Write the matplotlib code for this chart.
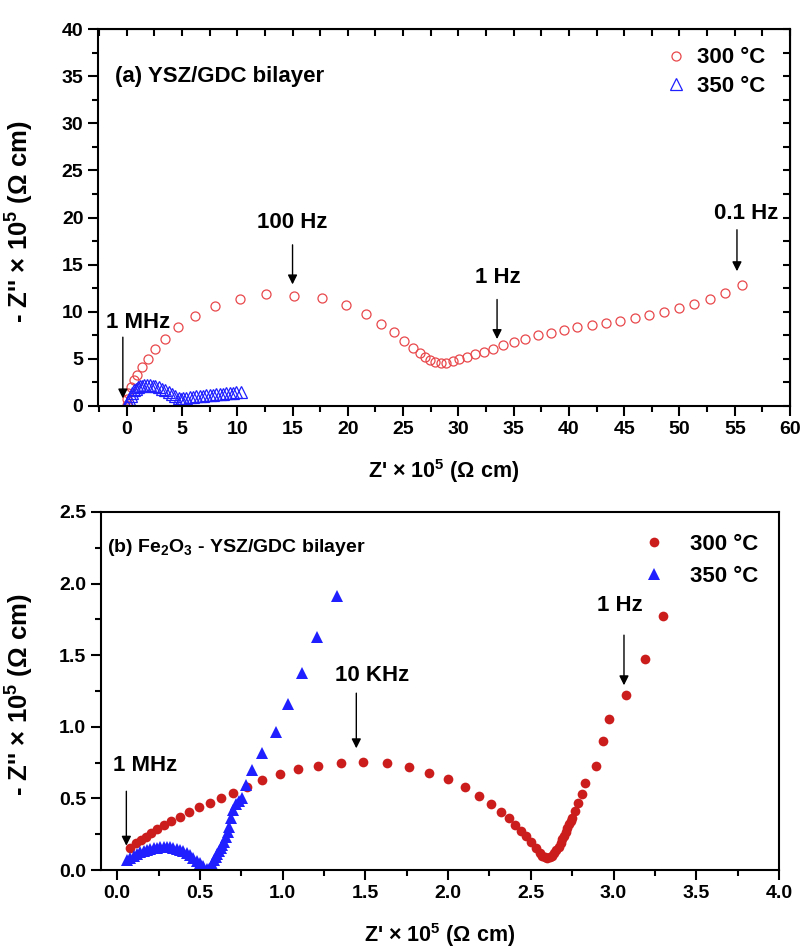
import matplotlib
matplotlib.use("Agg")
import matplotlib.pyplot as plt
from matplotlib.ticker import MultipleLocator

plt.rcParams['font.family'] = ['Liberation Sans', 'DejaVu Sans']
plt.rcParams['mathtext.fontset'] = 'custom'
plt.rcParams['mathtext.rm'] = 'Liberation Sans'
plt.rcParams['mathtext.bf'] = 'Liberation Sans:bold'
plt.rcParams['mathtext.it'] = 'Liberation Sans:italic'

# (a) YSZ/GDC bilayer, Z' and -Z'' in 10^5 ohm cm
a300_x = [0.0, 0.05, 0.15, 0.35, 0.65, 0.95, 1.4, 1.95, 2.6, 3.5, 4.65, 6.15, 8.0, 10.25,
          12.6, 15.1, 17.7, 19.8, 21.6, 23.0, 24.2, 25.1, 25.9, 26.5, 27.0, 27.45, 27.9,
          28.4, 28.9, 29.5, 30.1, 30.8, 31.5, 32.3, 33.1, 34.0, 35.0, 36.0, 37.2, 38.4,
          39.55, 40.75, 42.05, 43.35, 44.6, 46.0, 47.25, 48.6, 49.95, 51.3, 52.75, 54.15, 55.7]
a300_y = [0.1, 0.7, 1.4, 2.05, 2.75, 3.3, 4.1, 5.0, 6.0, 7.15, 8.4, 9.6, 10.6, 11.4,
          11.85, 11.65, 11.45, 10.7, 9.75, 8.75, 7.8, 6.9, 6.2, 5.6, 5.15, 4.85, 4.67,
          4.6, 4.6, 4.74, 4.95, 5.2, 5.48, 5.76, 6.08, 6.5, 6.82, 7.1, 7.5, 7.78,
          8.06, 8.35, 8.6, 8.84, 9.05, 9.3, 9.65, 9.95, 10.37, 10.8, 11.35, 12.0, 12.87]
a350_x = [0.0, 0.1, 0.2, 0.35, 0.5, 0.65, 0.8, 1.0, 1.2, 1.4, 1.6, 1.85, 2.1, 2.35, 2.6,
          2.9, 3.2, 3.5, 3.8, 4.1, 4.4, 4.7, 4.9, 5.1, 5.4, 5.7, 6.0, 6.3, 6.6, 6.9, 7.2,
          7.5, 7.8, 8.1, 8.4, 8.7, 9.0, 9.3, 9.6, 9.9, 10.3]
a350_y = [0.05, 0.4, 0.75, 1.1, 1.4, 1.65, 1.85, 2.0, 2.1, 2.15, 2.2, 2.2, 2.2, 2.15, 2.1,
          2.0, 1.85, 1.7, 1.5, 1.3, 1.1, 0.9, 0.75, 0.8, 0.9, 0.95, 1.0, 1.05, 1.1, 1.1, 1.15,
          1.2, 1.2, 1.25, 1.3, 1.3, 1.35, 1.4, 1.4, 1.45, 1.5]

# (b) Fe2O3 - YSZ/GDC bilayer
b300_x = [0.08, 0.111, 0.141, 0.171, 0.205, 0.242, 0.282, 0.326, 0.379, 0.433, 0.494, 0.558,
          0.625, 0.699, 0.782, 0.877, 0.981, 1.092, 1.215, 1.350, 1.487, 1.628, 1.763, 1.886,
          2.001, 2.100, 2.186, 2.261, 2.322, 2.367, 2.404, 2.438, 2.468, 2.498, 2.529, 2.555,
          2.57, 2.585, 2.60, 2.615, 2.628, 2.64, 2.655, 2.67, 2.68, 2.69, 2.70, 2.71, 2.72,
          2.73, 2.74, 2.751, 2.765, 2.785, 2.81, 2.83, 2.892, 2.936, 2.971, 3.075, 3.188, 3.301]
b300_y = [0.156, 0.186, 0.209, 0.232, 0.256, 0.284, 0.314, 0.342, 0.372, 0.403, 0.438, 0.465,
          0.502, 0.539, 0.581, 0.628, 0.668, 0.703, 0.728, 0.749, 0.754, 0.744, 0.716, 0.679,
          0.633, 0.577, 0.517, 0.461, 0.407, 0.361, 0.314, 0.272, 0.237, 0.198, 0.156, 0.116,
          0.10, 0.088, 0.082, 0.09, 0.10, 0.116, 0.14, 0.163, 0.19, 0.214, 0.24, 0.267, 0.295,
          0.321, 0.345, 0.365, 0.41, 0.47, 0.53, 0.61, 0.728, 0.900, 1.053, 1.221, 1.472, 1.775]
b350_x = [0.06, 0.08, 0.10, 0.12, 0.14, 0.16, 0.18, 0.20, 0.22, 0.24, 0.26, 0.28, 0.30, 0.32,
          0.34, 0.36, 0.38, 0.40, 0.42, 0.44, 0.46, 0.48, 0.50, 0.52, 0.54, 0.555, 0.565, 0.575,
          0.584, 0.595, 0.605, 0.615, 0.625, 0.635, 0.645, 0.657, 0.667, 0.677, 0.689, 0.701,
          0.715, 0.735, 0.753, 0.777, 0.812, 0.872, 0.957, 1.034, 1.118, 1.209, 1.326]
b350_y = [0.07, 0.085, 0.10, 0.112, 0.123, 0.133, 0.141, 0.148, 0.153, 0.157, 0.159, 0.16, 0.16,
          0.158, 0.154, 0.148, 0.14, 0.13, 0.117, 0.102, 0.085, 0.066, 0.046, 0.027, 0.01, 0.005,
          0.02, 0.04, 0.07, 0.09, 0.11, 0.13, 0.151, 0.172, 0.193, 0.233, 0.265, 0.302, 0.36,
          0.419, 0.46, 0.48, 0.50, 0.593, 0.698, 0.814, 0.965, 1.156, 1.373, 1.624, 1.912]

series_labels = ["300 °C", "350 °C"]

xlabel = "Z' $\\mathregular{\\times}$ 10$^{\\mathbf{5}}$ ($\\mathregular{\\Omega}$ cm)"
ylabel = "- Z'' $\\mathregular{\\times}$ 10$^{\\mathbf{5}}$ ($\\mathregular{\\Omega}$ cm)"

fig = plt.figure(figsize=(8.05, 9.49), dpi=100)
ax1 = fig.add_axes([0.1217, 0.5722, 0.8597, 0.3972])
ax2 = fig.add_axes([0.1251, 0.0832, 0.8426, 0.3773])


def style(ax, xmaj, ymaj, ylab_x):
    for s in ax.spines.values():
        s.set_linewidth(1.5)
    ax.xaxis.set_major_locator(MultipleLocator(xmaj))
    ax.xaxis.set_minor_locator(MultipleLocator(xmaj / 2))
    ax.yaxis.set_major_locator(MultipleLocator(ymaj))
    ax.yaxis.set_minor_locator(MultipleLocator(ymaj / 2))
    ax.tick_params(which='major', direction='out', length=7, width=1.5, labelsize=14)
    ax.tick_params(which='minor', direction='out', length=4, width=1.5)
    for lab in ax.get_xticklabels() + ax.get_yticklabels():
        lab.set_fontweight('bold')
    ax.set_xlabel(xlabel, fontsize=15.5, fontweight='bold', labelpad=14)
    ax.set_ylabel(ylabel, fontsize=18.5, fontweight='bold')
    ax.yaxis.set_label_coords(ylab_x, 0.49)


def arrow(ax, x, y0, y1):
    ax.annotate('', xy=(x, y1), xytext=(x, y0),
                arrowprops=dict(arrowstyle='-|>', color='black', lw=1.0,
                                mutation_scale=14, shrinkA=0, shrinkB=0))


def note(ax, x, y, s):
    ax.text(x, y, s, fontsize=16, fontweight='bold', ha='center', va='center')


# panel (a)
ax1.plot(a300_x, a300_y, 'o', mfc='none', mec='#e8484b', mew=0.9, ms=6.5, label=series_labels[0])
ax1.plot(a350_x, a350_y, '^', mfc='none', mec='#2020ff', mew=0.9, ms=8.5, label=series_labels[1])
ax1.set_xlim(-2.6, 60)
ax1.set_ylim(0, 40)
style(ax1, 5, 5, -0.09)
sx = ax1.secondary_xaxis('top')
sx.xaxis.set_major_locator(MultipleLocator(2.5))
sx.tick_params(direction='in', length=5, width=1.5, labeltop=False)
sy = ax1.secondary_yaxis('right')
sy.yaxis.set_major_locator(MultipleLocator(2.5))
sy.tick_params(direction='in', length=5, width=1.5, labelright=False)

ax1.text(-1.1, 35, "(a) YSZ/GDC bilayer", fontsize=16, fontweight='bold', va='center')
note(ax1, 1.0, 8.9, "1 MHz")
arrow(ax1, -0.35, 7.3, 0.8)
note(ax1, 15.0, 19.5, "100 Hz")
arrow(ax1, 15.0, 17.1, 12.9)
note(ax1, 33.6, 13.6, "1 Hz")
arrow(ax1, 33.5, 11.3, 7.1)
note(ax1, 56.0, 20.4, "0.1 Hz")
arrow(ax1, 55.2, 18.7, 14.3)
ax1.legend(loc='upper right', bbox_to_anchor=(0.977, 0.975), frameon=False,
           prop={'weight': 'bold', 'size': 16}, handlelength=1.2, handletextpad=0.35,
           labelspacing=0.35, borderaxespad=0)

# panel (b)
ax2.plot(b300_x, b300_y, 'o', color='#cc1d1d', ms=7, mew=0, label=series_labels[0])
ax2.plot(b350_x, b350_y, '^', color='#1f1fff', ms=8, mew=0, label=series_labels[1])
ax2.set_xlim(-0.1, 4.0)
ax2.set_ylim(0, 2.5)
style(ax2, 0.5, 0.5, -0.095)

ax2.text(-0.06, 2.25, "(b) Fe$_{\\mathbf{2}}$O$_{\\mathbf{3}}$ - YSZ/GDC bilayer",
         fontsize=14, fontweight='bold', va='center')
note(ax2, 0.17, 0.73, "1 MHz")
arrow(ax2, 0.055, 0.55, 0.17)
note(ax2, 1.54, 1.36, "10 KHz")
arrow(ax2, 1.445, 1.235, 0.85)
note(ax2, 3.04, 1.85, "1 Hz")
arrow(ax2, 3.063, 1.64, 1.29)
ax2.legend(loc='upper right', bbox_to_anchor=(0.982, 0.964), frameon=False,
           prop={'weight': 'bold', 'size': 16}, handlelength=1.2, handletextpad=1.0,
           labelspacing=0.5, borderaxespad=0)

fig.savefig("out.png", dpi=100)
